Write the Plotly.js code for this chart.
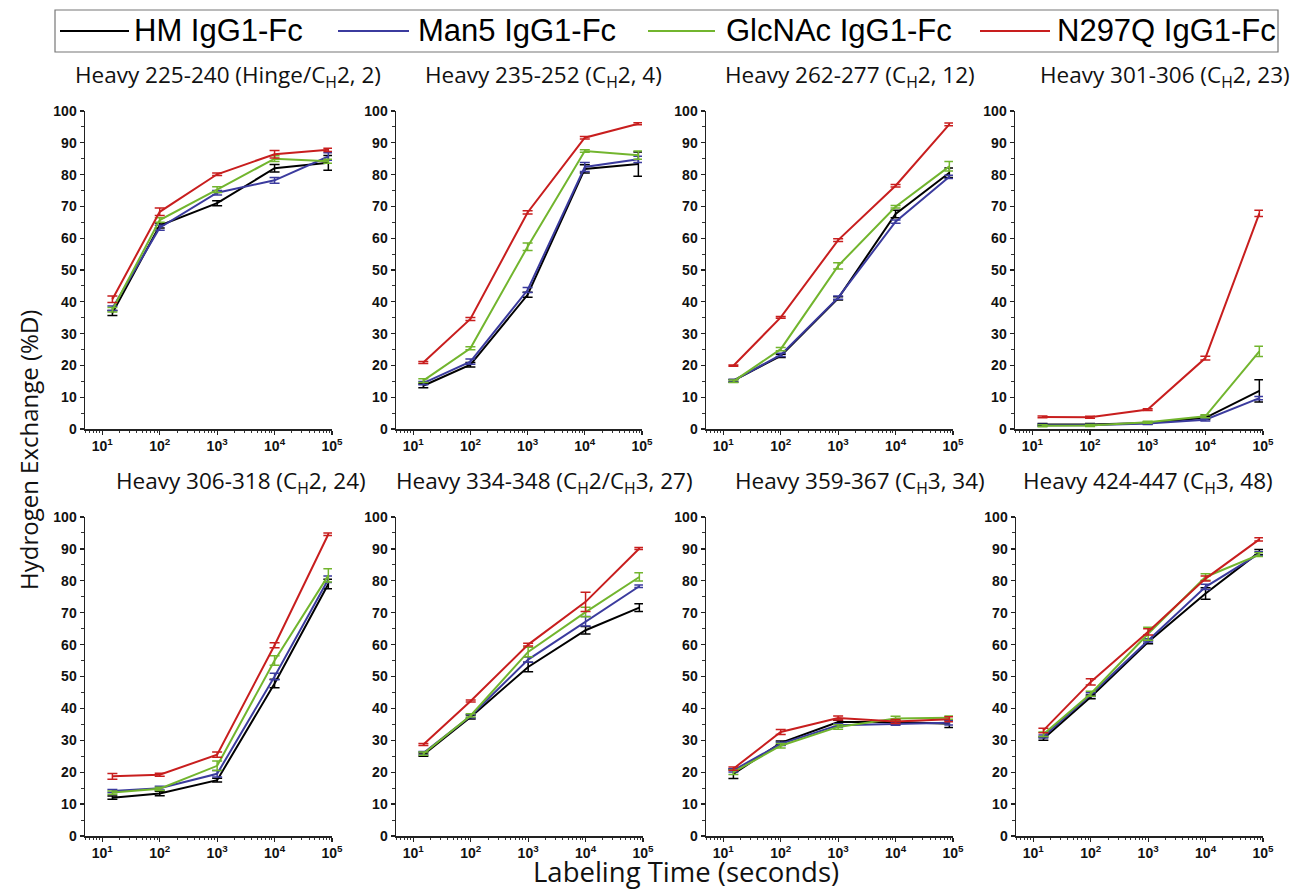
<!DOCTYPE html>
<html>
<head>
<meta charset="utf-8">
<script src="https://cdn.plot.ly/plotly-3.0.1.min.js"></script>
<style>
html,body{margin:0;padding:0;background:#fff;}
#chart{width:1290px;height:891px;}
</style>
</head>
<body>
<div id="chart"></div>
<script>
// ---- data ----
const times = [15, 100, 1000, 10000, 86400];
const seriesNames = ['HM IgG1-Fc', 'Man5 IgG1-Fc', 'GlcNAc IgG1-Fc', 'N297Q IgG1-Fc'];
const seriesColors = ['#000000', '#3b3b9e', '#72b52e', '#c81e1e'];
const panelTitles = [
  'Heavy 225-240 (Hinge/C<sub>H</sub>2, 2)',
  'Heavy 235-252 (C<sub>H</sub>2, 4)',
  'Heavy 262-277 (C<sub>H</sub>2, 12)',
  'Heavy 301-306 (C<sub>H</sub>2, 23)',
  'Heavy 306-318 (C<sub>H</sub>2, 24)',
  'Heavy 334-348 (C<sub>H</sub>2/C<sub>H</sub>3, 27)',
  'Heavy 359-367 (C<sub>H</sub>3, 34)',
  'Heavy 424-447 (C<sub>H</sub>3, 48)'
];
const xTickVals = [10, 100, 1000, 10000, 100000];
const xTickText = ['10<sup>1</sup>', '10<sup>2</sup>', '10<sup>3</sup>', '10<sup>4</sup>', '10<sup>5</sup>'];

// values per panel: rows = HM, Man5, GlcNAc, N297Q
const p1Values = [[36.5, 64.0, 71.0, 82.0, 83.7], [38.0, 63.3, 74.3, 78.2, 85.7], [37.5, 65.7, 75.3, 85.0, 84.2], [40.8, 68.3, 80.1, 86.4, 87.8]];
const p1Errors = [[0.8, 0.8, 0.8, 1.2, 2.3], [0.7, 0.8, 0.7, 0.9, 1.2], [0.7, 0.7, 0.9, 0.9, 0.6], [1.0, 1.2, 0.4, 1.2, 0.5]];
const p2Values = [[13.6, 20.2, 42.2, 81.8, 83.3], [14.4, 21.2, 43.7, 82.4, 84.8], [15.2, 25.4, 57.3, 87.4, 86.1], [20.9, 34.6, 68.1, 91.6, 96.0]];
const p2Errors = [[0.6, 0.7, 0.8, 1.3, 3.8], [0.5, 0.8, 0.8, 1.4, 1.0], [0.6, 0.5, 1.2, 0.4, 1.3], [0.3, 0.5, 0.5, 0.4, 0.3]];
const p3Values = [[15.2, 23.0, 41.1, 67.6, 80.6], [15.2, 23.3, 41.3, 65.2, 79.3], [15.0, 25.1, 51.3, 69.9, 82.6], [19.9, 35.1, 59.4, 76.5, 95.8]];
const p3Errors = [[0.4, 0.5, 0.5, 1.2, 1.5], [0.4, 0.5, 0.5, 0.5, 0.5], [0.4, 0.5, 1.0, 0.4, 1.5], [0.2, 0.3, 0.4, 0.4, 0.4]];
const p4Values = [[1.4, 1.4, 1.9, 3.5, 12.0], [1.2, 1.2, 1.7, 2.9, 9.7], [1.0, 1.1, 2.1, 4.0, 24.4], [3.8, 3.7, 6.1, 22.3, 67.8]];
const p4Errors = [[0.3, 0.3, 0.3, 0.5, 3.5], [0.3, 0.3, 0.3, 0.4, 0.5], [0.3, 0.3, 0.3, 0.5, 1.6], [0.3, 0.3, 0.3, 0.6, 1.0]];
const p5Values = [[12.0, 13.3, 17.5, 47.8, 79.0], [14.1, 15.0, 19.5, 50.0, 80.5], [13.6, 14.8, 22.0, 55.0, 81.7], [18.7, 19.2, 25.5, 59.8, 94.6]];
const p5Errors = [[0.5, 0.7, 0.6, 1.3, 1.5], [0.5, 0.6, 1.0, 1.0, 1.0], [0.5, 0.5, 1.5, 1.5, 2.1], [0.9, 0.5, 0.8, 0.8, 0.4]];
const p6Values = [[25.5, 37.3, 53.0, 64.5, 71.6], [26.0, 37.6, 55.3, 67.3, 78.3], [25.8, 37.8, 57.7, 70.2, 81.2], [28.7, 42.3, 60.0, 73.4, 90.1]];
const p6Errors = [[0.5, 0.6, 1.5, 1.2, 1.2], [0.5, 0.5, 0.8, 1.5, 0.4], [0.5, 0.5, 1.5, 1.5, 1.3], [0.3, 0.3, 0.4, 3.0, 0.3]];
const p7Values = [[19.5, 29.2, 35.7, 35.7, 35.2], [20.6, 28.9, 34.7, 35.2, 35.5], [20.0, 28.3, 34.2, 36.8, 37.1], [21.1, 32.6, 37.0, 35.9, 36.6]];
const p7Errors = [[1.5, 0.6, 0.6, 0.5, 1.2], [0.5, 0.5, 0.5, 0.5, 0.7], [0.7, 0.7, 0.7, 0.7, 0.5], [0.5, 0.8, 0.6, 0.6, 0.8]];
const p8Values = [[30.5, 43.6, 60.8, 76.0, 89.0], [31.2, 44.3, 61.3, 78.1, 88.5], [31.9, 44.6, 63.4, 81.2, 88.2], [33.1, 48.3, 64.0, 80.7, 93.0]];
const p8Errors = [[0.5, 0.6, 0.5, 1.8, 0.8], [0.5, 0.6, 0.5, 0.8, 0.6], [0.7, 0.8, 2.0, 1.0, 0.6], [0.7, 1.0, 1.0, 0.8, 0.5]];

const panelValues = [p1Values, p2Values, p3Values, p4Values, p5Values, p6Values, p7Values, p8Values];
const panelErrors = [p1Errors, p2Errors, p3Errors, p4Errors, p5Errors, p6Errors, p7Errors, p8Errors];

// ---- layout geometry (pixels) ----
const W = 1290, H = 891;
const colPx = [[85, 332], [396, 642], [706, 953], [1015, 1263]];
const col2Px = [[85, 332], [396, 643], [706, 953], [1016, 1263]];
const rowPx = [[111, 429], [517, 836]];
const titleCenterPx = [228, 543, 850, 1165, 241, 544, 860, 1148];
const titleYPx = [76, 482];

const traces = [];
const layout = {
  width: W, height: H,
  margin: {l: 0, r: 0, t: 0, b: 0},
  paper_bgcolor: '#ffffff', plot_bgcolor: '#ffffff',
  showlegend: false,
  annotations: [], shapes: []
};

const tickFont = {family: 'Liberation Sans', size: 14, color: '#111', weight: 700};

for (let p = 0; p < 8; p++) {
  const r = p < 4 ? 0 : 1;
  const c = p % 4;
  const cx = r === 0 ? colPx[c] : col2Px[c];
  const ax = p + 1;
  const sfx = ax === 1 ? '' : String(ax);
  layout['xaxis' + sfx] = {
    type: 'log',
    domain: [cx[0] / W, cx[1] / W],
    range: [Math.log10(5), 5],
    anchor: 'y' + sfx,
    showgrid: false, zeroline: false,
    showline: true, linecolor: '#222', linewidth: 1.5,
    ticks: 'outside', ticklen: 4, tickwidth: 1.2, tickcolor: '#222',
    tickmode: 'array', tickvals: xTickVals, ticktext: xTickText,
    tickfont: tickFont,
    minor: {ticks: 'outside', ticklen: 2.5, tickwidth: 1, tickcolor: '#333', dtick: 'D1', showgrid: false},
    fixedrange: true
  };
  layout['yaxis' + sfx] = {
    domain: [1 - rowPx[r][1] / H, 1 - rowPx[r][0] / H],
    range: [0, 100],
    anchor: 'x' + sfx,
    showgrid: false, zeroline: false,
    showline: true, linecolor: '#222', linewidth: 1.5,
    ticks: 'outside', ticklen: 4, tickwidth: 1.2, tickcolor: '#222',
    dtick: 10, tick0: 0,
    tickfont: tickFont,
    minor: {ticks: 'outside', ticklen: 2.5, tickwidth: 1, tickcolor: '#333', dtick: 5, showgrid: false},
    fixedrange: true
  };
  for (let s = 0; s < 4; s++) {
    traces.push({
      type: 'scatter', mode: 'lines',
      x: times, y: panelValues[p][s],
      name: seriesNames[s],
      xaxis: 'x' + sfx, yaxis: 'y' + sfx,
      line: {color: seriesColors[s], width: 2},
      error_y: {type: 'data', array: panelErrors[p][s], visible: true, color: seriesColors[s], thickness: 1.5, width: 5},
      showlegend: false, hoverinfo: 'skip'
    });
  }
  layout.annotations.push({
    xref: 'paper', yref: 'paper',
    x: titleCenterPx[p] / W, y: 1 - titleYPx[r] / H,
    xanchor: 'center', yanchor: 'middle',
    text: panelTitles[p], showarrow: false,
    font: {family: 'Open Sans, Noto Sans, sans-serif', size: 22.5, color: '#111'}
  });
}

// axis titles
layout.annotations.push({
  xref: 'paper', yref: 'paper', x: 28 / W, y: 1 - 450 / H,
  xanchor: 'center', yanchor: 'middle', textangle: -90,
  text: 'Hydrogen Exchange (%D)', showarrow: false,
  font: {family: 'Open Sans, Noto Sans, sans-serif', size: 24, color: '#111'}
});
layout.annotations.push({
  xref: 'paper', yref: 'paper', x: 686 / W, y: 0,
  xanchor: 'center', yanchor: 'bottom', borderpad: 0,
  text: 'Labeling Time (seconds)', showarrow: false,
  font: {family: 'Open Sans, Noto Sans, sans-serif', size: 27.5, color: '#111'}
});

// legend box
layout.shapes.push({
  type: 'rect', xref: 'paper', yref: 'paper',
  x0: 55 / W, x1: 1278 / W, y0: 1 - 52 / H, y1: 1 - 10 / H,
  line: {color: '#777', width: 1.2}, fillcolor: 'rgba(0,0,0,0)'
});
const legLinePx = [[60, 129], [338, 409], [648, 715], [980, 1050]];
const legTextPx = [132, 416, 724, 1055];
for (let s = 0; s < 4; s++) {
  layout.shapes.push({
    type: 'line', xref: 'paper', yref: 'paper',
    x0: legLinePx[s][0] / W, x1: legLinePx[s][1] / W, y0: 1 - 31 / H, y1: 1 - 31 / H,
    line: {color: seriesColors[s], width: 2}
  });
  layout.annotations.push({
    xref: 'paper', yref: 'paper', x: legTextPx[s] / W, y: 1 - 31 / H,
    xanchor: 'left', yanchor: 'middle', text: seriesNames[s], showarrow: false,
    font: {family: 'Liberation Sans, Arial, sans-serif', size: 31, color: '#000'}
  });
}

Plotly.newPlot('chart', traces, layout, {staticPlot: true, displayModeBar: false});
</script>
</body>
</html>
